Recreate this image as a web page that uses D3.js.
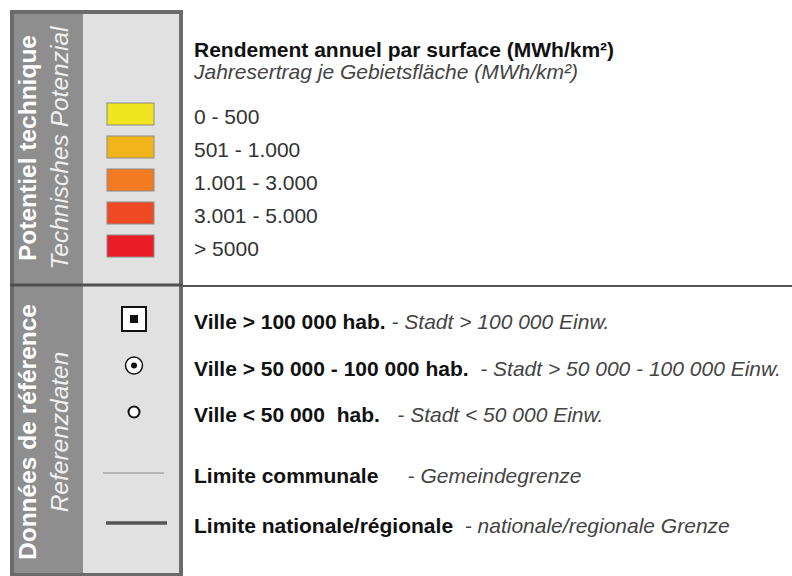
<!DOCTYPE html>
<head>
  <meta charset="utf-8" />
  <style>
    body { margin: 0; background: #fff; }
    svg { display: block; font-family: "Liberation Sans", Arial, sans-serif; }
    text { white-space: pre; }
  </style>
</head>
<body>
  <svg width="792" height="576"></svg>

  <script src="https://d3js.org/d3.v7.min.js"></script>
  <script>
    // legend content
    var sectionTitles = ["Potentiel technique", "Données de référence"];
    var sectionSubtitles = ["Technisches Potenzial", "Referenzdaten"];

    var yieldTitle = "Rendement annuel par surface (MWh/km²)";
    var yieldTitleDe = "Jahresertrag je Gebietsfläche (MWh/km²)";
    var yieldClasses = ["0 - 500", "501 - 1.000", "1.001 - 3.000", "3.001 - 5.000", "> 5000"];
    var yieldColors = ["#efe620", "#f2b41b", "#f27b21", "#ee4a24", "#ea1c25"];

    var cityLabels = ["Ville > 100 000 hab.", "Ville > 50 000 - 100 000 hab.", "Ville < 50 000  hab."];
    var cityLabelsDe = [" - Stadt > 100 000 Einw.", "  - Stadt > 50 000 - 100 000 Einw.", "   - Stadt < 50 000 Einw."];
    var citySymbols = ["square", "ringdot", "ring"];

    var boundaryLabels = ["Limite communale", "Limite nationale/régionale"];
    var boundaryLabelsDe = ["     - Gemeindegrenze", "  - nationale/regionale Grenze"];
    var boundaryStyles = ["thin", "thick"];

    var svg = d3.select("svg");

    var frame = { x0: 12, x1: 181, split: 83, top: 12, mid: 285, bottom: 575 };
    var textX = 194;
    var symbolX = 134;

    // panel backgrounds
    svg.append("rect")
      .attr("x", frame.x0).attr("y", frame.top)
      .attr("width", frame.x1 - frame.x0).attr("height", frame.bottom - frame.top)
      .attr("fill", "#e1e1e1");
    svg.append("rect")
      .attr("x", frame.x0).attr("y", frame.top)
      .attr("width", frame.split - frame.x0).attr("height", frame.bottom - frame.top)
      .attr("fill", "#8e8e8e");
    svg.append("rect")
      .attr("x", frame.x0).attr("y", frame.top)
      .attr("width", frame.x1 - frame.x0).attr("height", frame.bottom - frame.top)
      .attr("fill", "none")
      .attr("stroke", "#6b6b6b")
      .attr("stroke-width", 4);

    // section divider
    svg.append("line")
      .attr("x1", frame.x0 - 2).attr("x2", frame.x1 + 2)
      .attr("y1", frame.mid).attr("y2", frame.mid)
      .attr("stroke", "#505050").attr("stroke-width", 3);
    svg.append("line")
      .attr("x1", frame.x1 + 2).attr("x2", 792)
      .attr("y1", frame.mid + 1).attr("y2", frame.mid + 1)
      .attr("stroke", "#555").attr("stroke-width", 2);

    // rotated section headings
    var sectionCenter = d3.scaleOrdinal().domain(sectionTitles).range([148, 432]);

    svg.append("g").selectAll("text")
      .data(sectionTitles)
      .join("text")
      .attr("transform", function (d) { return "translate(36," + sectionCenter(d) + ") rotate(-90)"; })
      .attr("text-anchor", "middle")
      .attr("font-size", 24.5)
      .attr("font-weight", "bold")
      .attr("fill", "#ffffff")
      .text(function (d) { return d; });

    svg.append("g").selectAll("text")
      .data(sectionSubtitles)
      .join("text")
      .attr("transform", function (d, i) { return "translate(68," + sectionCenter(sectionTitles[i]) + ") rotate(-90)"; })
      .attr("text-anchor", "middle")
      .attr("font-size", 24.5)
      .attr("font-style", "italic")
      .attr("fill", "#f0f0f0")
      .text(function (d) { return d; });

    // ---- technical potential ----
    svg.append("text")
      .attr("x", textX).attr("y", 57)
      .attr("font-size", 21).attr("font-weight", "bold").attr("fill", "#111")
      .text(yieldTitle);
    svg.append("text")
      .attr("x", textX).attr("y", 79)
      .attr("font-size", 21).attr("font-style", "italic").attr("fill", "#444")
      .text(yieldTitleDe);

    var yieldY = d3.scalePoint().domain(yieldClasses).range([124, 256]);

    var yieldRows = svg.append("g").selectAll("g")
      .data(yieldClasses)
      .join("g");

    yieldRows.append("rect")
      .attr("x", 107).attr("width", 47)
      .attr("y", function (d) { return yieldY(d) - 21; })
      .attr("height", 22)
      .attr("fill", function (d, i) { return yieldColors[i]; })
      .attr("stroke", "#8c8c8c")
      .attr("stroke-width", 1);

    yieldRows.append("text")
      .attr("x", textX)
      .attr("y", function (d) { return yieldY(d); })
      .attr("font-size", 21)
      .attr("fill", "#333")
      .text(function (d) { return d; });

    // ---- reference data ----
    var cityY = d3.scalePoint().domain(cityLabels).range([329, 422]);
    var boundaryY = d3.scalePoint().domain(boundaryLabels).range([483, 533]);

    function refRow(sel, labels, labelsDe, y) {
      var t = sel.selectAll("text")
        .data(labels)
        .join("text")
        .attr("x", textX)
        .attr("y", function (d) { return y(d); })
        .attr("font-size", 21);
      t.append("tspan")
        .attr("font-weight", "bold")
        .attr("fill", "#111")
        .text(function (d) { return d; });
      t.append("tspan")
        .attr("font-style", "italic")
        .attr("fill", "#444")
        .text(function (d, i) { return labelsDe[i]; });
    }

    refRow(svg.append("g"), cityLabels, cityLabelsDe, cityY);
    refRow(svg.append("g"), boundaryLabels, boundaryLabelsDe, boundaryY);

    // city symbols
    var cities = svg.append("g").selectAll("g")
      .data(cityLabels)
      .join("g")
      .attr("transform", function (d) { return "translate(" + symbolX + "," + (cityY(d) - 10) + ")"; });

    cities.each(function (d, i) {
      var g = d3.select(this);
      if (citySymbols[i] === "square") {
        g.append("rect").attr("x", -12).attr("y", -12).attr("width", 24).attr("height", 24)
          .attr("fill", "#fff").attr("stroke", "#111").attr("stroke-width", 2);
        g.append("rect").attr("x", -4).attr("y", -4).attr("width", 8).attr("height", 8)
          .attr("fill", "#111");
      } else if (citySymbols[i] === "ringdot") {
        g.append("circle").attr("r", 8.5)
          .attr("fill", "#fff").attr("stroke", "#111").attr("stroke-width", 1.5);
        g.append("circle").attr("r", 3).attr("fill", "#111");
      } else {
        g.append("circle").attr("r", 5.5)
          .attr("fill", "#fff").attr("stroke", "#111").attr("stroke-width", 2);
      }
    });

    // boundary symbols
    svg.append("g").selectAll("line")
      .data(boundaryLabels)
      .join("line")
      .attr("x1", function (d, i) { return boundaryStyles[i] === "thin" ? 103 : 106; })
      .attr("x2", function (d, i) { return boundaryStyles[i] === "thin" ? 164 : 167; })
      .attr("y1", function (d) { return boundaryY(d) - 10; })
      .attr("y2", function (d) { return boundaryY(d) - 10; })
      .attr("stroke", function (d, i) { return boundaryStyles[i] === "thin" ? "#b4b4b4" : "#555"; })
      .attr("stroke-width", function (d, i) { return boundaryStyles[i] === "thin" ? 2 : 3.5; });
  </script>
</body>
